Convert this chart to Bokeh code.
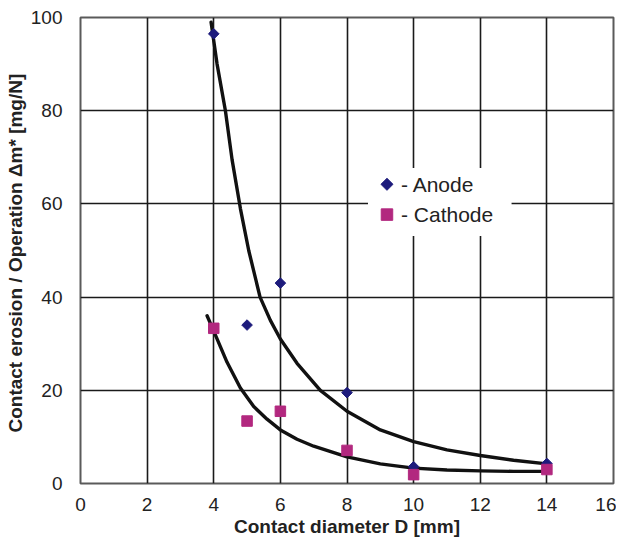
import math
from bokeh.plotting import figure
from bokeh.models import Range1d, FixedTicker
from bokeh.core.properties import value
from bokeh.embed import file_html
from bokeh.resources import INLINE

# ---- data ----
x_ticks = [0, 2, 4, 6, 8, 10, 12, 14, 16]
y_ticks = [0, 20, 40, 60, 80, 100]

anode_d = [4, 5, 6, 8, 10, 14]
anode_m = [96.5, 34.0, 43.0, 19.5, 3.6, 4.3]
cathode_d = [4, 5, 6, 8, 10, 14]
cathode_m = [33.3, 13.4, 15.5, 7.1, 1.9, 3.0]

anode_fit_d = [3.92, 4.1, 4.35, 4.55, 4.8, 5.05, 5.39, 5.7, 6.0, 6.5, 7.2, 8.0, 9.0, 10.0, 11.0, 12.0, 13.0, 14.0]
anode_fit_m = [99.0, 90.0, 80.0, 69.5, 59.0, 50.0, 40.0, 35.0, 31.0, 25.8, 20.0, 15.5, 11.5, 9.0, 7.2, 6.0, 5.0, 4.2]
cathode_fit_d = [3.8, 4.0, 4.4, 4.8, 5.2, 5.6, 6.0, 6.5, 7.0, 8.0, 9.0, 10.0, 11.0, 12.0, 13.0, 14.0]
cathode_fit_m = [36.0, 32.7, 26.0, 20.5, 16.5, 13.8, 11.5, 9.5, 8.0, 5.7, 4.2, 3.3, 2.9, 2.7, 2.6, 2.6]

legend_labels = ["- Anode", "- Cathode"]

ANODE_COLOR = "#1d1b7c"
CATHODE_COLOR = "#b2287f"
FONT = "Liberation Sans"

p = figure(width=616, height=539, output_backend="svg", toolbar_location=None,
           x_range=Range1d(0, 16), y_range=Range1d(0, 100),
           min_border_left=80, min_border_right=3, min_border_top=17, min_border_bottom=52)
p.background_fill_color = "white"
p.border_fill_color = "white"
p.outline_line_color = "#5a5a5a"
p.outline_line_width = 2

for ax in (p.xaxis[0], p.yaxis[0]):
    ax.major_tick_line_color = None
    ax.minor_tick_line_color = None
    ax.axis_line_color = None
    ax.major_label_text_font = FONT
    ax.major_label_text_font_size = "19px"
    ax.major_label_text_color = "#222222"
    ax.axis_label_text_font = FONT
    ax.axis_label_text_font_style = "bold"
    ax.axis_label_text_font_size = "19px"
    ax.axis_label_text_color = "#222222"

p.xaxis.ticker = FixedTicker(ticks=x_ticks)
p.yaxis.ticker = FixedTicker(ticks=y_ticks)
p.xaxis.major_label_standoff = 8
p.yaxis.major_label_standoff = 12
p.xaxis.axis_label = "Contact diameter D [mm]"
p.yaxis.axis_label = "Contact erosion / Operation  \u0394m* [mg/N]"
p.xaxis.axis_label_standoff = 2
p.yaxis.axis_label_standoff = 2

p.xgrid.ticker = FixedTicker(ticks=x_ticks)
p.ygrid.ticker = FixedTicker(ticks=y_ticks)
for g in (p.xgrid[0], p.ygrid[0]):
    g.grid_line_color = "#1a1a1a"
    g.grid_line_width = 1.6

# fitted curves
p.line(anode_fit_d, anode_fit_m, line_color="#111111", line_width=3.4, line_join="round", line_cap="round")
p.line(cathode_fit_d, cathode_fit_m, line_color="#111111", line_width=3.4, line_join="round", line_cap="round")

# data points
p.scatter(anode_d, anode_m, marker="square", angle=math.pi / 4, size=7.5,
          fill_color=ANODE_COLOR, line_color=ANODE_COLOR)
p.scatter(cathode_d, cathode_m, marker="square", size=10.5,
          fill_color=CATHODE_COLOR, line_color=CATHODE_COLOR)

# legend (drawn by hand: white box, markers, labels)
LEG_LEFT, LEG_RIGHT, LEG_BOTTOM, LEG_TOP = 8.63, 12.94, 53.1, 67.7
LEG_MX, LEG_TX = 9.2, 9.62
LEG_ROWS = [64.2, 57.7]
p.quad(left=[LEG_LEFT], right=[LEG_RIGHT], bottom=[LEG_BOTTOM], top=[LEG_TOP],
       fill_color="white", line_color=None)
p.scatter([LEG_MX], [LEG_ROWS[0]], marker="square", angle=math.pi / 4, size=8.5,
          fill_color=ANODE_COLOR, line_color=ANODE_COLOR)
p.scatter([LEG_MX], [LEG_ROWS[1]], marker="square", size=11.5,
          fill_color=CATHODE_COLOR, line_color=CATHODE_COLOR)
p.text([LEG_TX, LEG_TX], LEG_ROWS, text=legend_labels, text_font=value(FONT),
       text_font_size="21px", text_baseline="middle", text_align="left", text_color="#222222")

open("out.html", "w").write(file_html(p, INLINE))
